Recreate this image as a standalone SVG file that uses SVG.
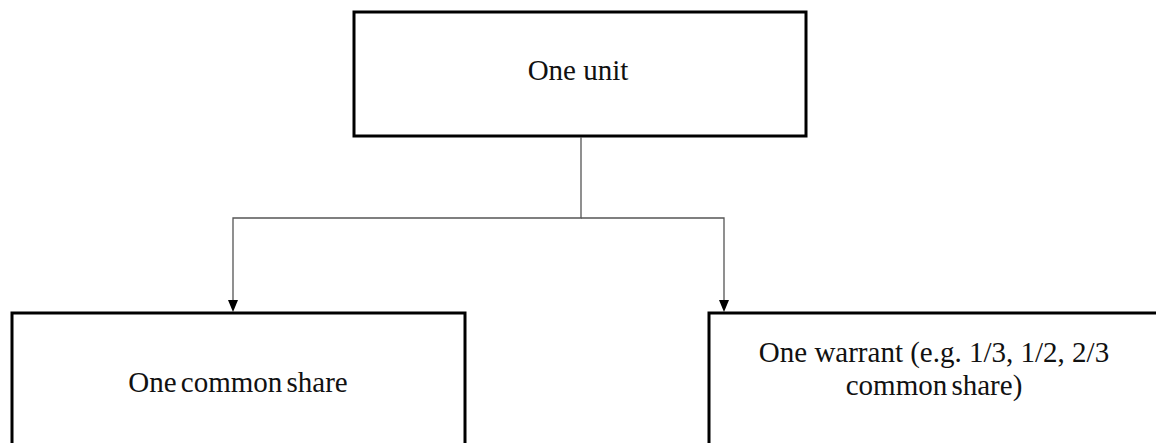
<svg xmlns="http://www.w3.org/2000/svg" width="1156" height="443" viewBox="0 0 1156 443">
<style>
.box{fill:#fff;stroke:#000;stroke-width:3}
.lbl{font-family:"Liberation Serif","Times New Roman",serif;font-size:29px;fill:#111;text-anchor:middle}
.con{fill:none;stroke:#555;stroke-width:1.3}
.arrow{fill:#000}
</style>
<rect width="1156" height="443" fill="#fff"/>
<g id="n-unit">
<rect class="box" x="354" y="12" width="452" height="124"/>
<text class="lbl" x="578" y="80">One unit</text>
</g>
<g id="n-share">
<rect class="box" x="12" y="313" width="453" height="160"/>
<text class="lbl" x="238" y="392" word-spacing="-3">One common share</text>
</g>
<g id="n-warrant">
<rect class="box" x="709" y="313" width="480" height="160"/>
<text class="lbl" x="934" y="362">One warrant (e.g. 1/3, 1/2, 2/3</text>
<text class="lbl" x="934" y="395" word-spacing="-3">common share)</text>
</g>
<g id="connectors">
<path class="con" d="M581,137 V218 H233 V300"/>
<path class="con" d="M581,218 H724 V300"/>
<path class="arrow" d="M228,300 L238,300 L233,312 Z"/>
<path class="arrow" d="M719,300 L729,300 L724,312 Z"/>
</g>
</svg>
